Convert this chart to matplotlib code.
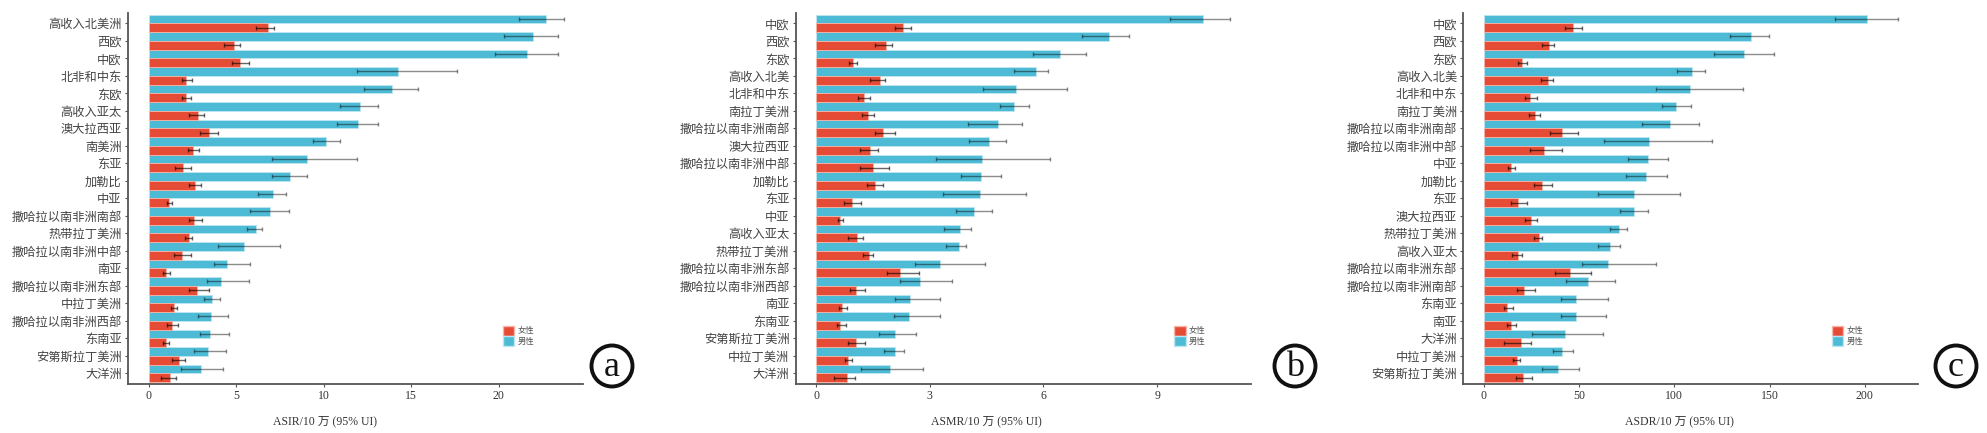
import matplotlib
matplotlib.use("Agg")
import matplotlib.pyplot as plt
from matplotlib.patches import Patch, Circle
import numpy as np

plt.rcParams['font.family'] = ['Noto Sans CJK SC', 'DejaVu Sans']

# ---------------- Panel a: ASIR ----------------
a_regions = ["高收入北美洲", "西欧", "中欧", "北非和中东", "东欧", "高收入亚太", "澳大拉西亚",
             "南美洲", "东亚", "加勒比", "中亚", "撒哈拉以南非洲南部", "热带拉丁美洲",
             "撒哈拉以南非洲中部", "南亚", "撒哈拉以南非洲东部", "中拉丁美洲",
             "撒哈拉以南非洲西部", "东南亚", "安第斯拉丁美洲", "大洋洲"]
a_male = [22.66, 21.94, 21.62, 14.23, 13.89, 12.06, 11.94, 10.13, 9.06, 8.06, 7.09,
          6.95, 6.11, 5.43, 4.47, 4.15, 3.60, 3.56, 3.52, 3.39, 2.99]
a_male_lo = [21.12, 20.30, 19.77, 11.90, 12.32, 10.95, 10.74, 9.41, 7.03, 7.03, 6.23,
             5.81, 5.63, 3.96, 3.75, 3.31, 3.14, 2.82, 2.93, 2.61, 1.83]
a_male_hi = [23.69, 23.35, 23.37, 17.60, 15.39, 13.07, 13.07, 10.93, 11.92, 9.05, 7.87,
             8.02, 6.49, 7.50, 5.77, 5.75, 4.09, 4.53, 4.61, 4.40, 4.26]
a_female = [6.80, 4.89, 5.24, 2.11, 2.13, 2.84, 3.45, 2.55, 1.94, 2.65, 1.18,
            2.61, 2.32, 1.89, 0.99, 2.78, 1.43, 1.31, 0.97, 1.71, 1.22]
a_female_lo = [6.13, 4.30, 4.78, 1.89, 1.90, 2.32, 2.95, 2.26, 1.49, 2.29, 1.03,
               2.29, 2.07, 1.43, 0.82, 2.29, 1.26, 1.07, 0.82, 1.35, 0.70]
a_female_hi = [7.18, 5.22, 5.73, 2.46, 2.40, 3.18, 3.94, 2.87, 2.42, 3.01, 1.33,
               3.05, 2.47, 2.40, 1.22, 3.43, 1.60, 1.67, 1.14, 2.06, 1.54]
a_ticks = [0, 5, 10, 15, 20]

# ---------------- Panel b: ASMR ----------------
b_regions = ["中欧", "西欧", "东欧", "高收入北美", "北非和中东", "南拉丁美洲",
             "撒哈拉以南非洲南部", "澳大拉西亚", "撒哈拉以南非洲中部", "加勒比", "东亚",
             "中亚", "高收入亚太", "热带拉丁美洲", "撒哈拉以南非洲东部",
             "撒哈拉以南非洲西部", "南亚", "东南亚", "安第斯拉丁美洲", "中拉丁美洲", "大洋洲"]
b_male = [10.20, 7.73, 6.44, 5.79, 5.28, 5.21, 4.81, 4.55, 4.39, 4.36, 4.32,
          4.16, 3.79, 3.78, 3.27, 2.75, 2.47, 2.44, 2.09, 2.07, 1.95]
b_male_lo = [9.35, 7.01, 5.73, 5.23, 4.41, 4.84, 4.00, 4.04, 3.16, 3.82, 3.36,
             3.70, 3.37, 3.44, 2.61, 2.21, 2.07, 2.05, 1.65, 1.80, 1.19]
b_male_hi = [10.93, 8.25, 7.13, 6.13, 6.63, 5.63, 5.43, 5.01, 6.17, 4.89, 5.55,
             4.65, 4.09, 3.95, 4.46, 3.58, 3.28, 3.27, 2.64, 2.31, 2.82]
b_female = [2.29, 1.84, 0.98, 1.68, 1.25, 1.37, 1.77, 1.42, 1.51, 1.56, 0.95,
            0.64, 1.09, 1.40, 2.22, 1.05, 0.69, 0.62, 1.05, 0.85, 0.82]
b_female_lo = [2.07, 1.56, 0.88, 1.43, 1.10, 1.21, 1.55, 1.15, 1.16, 1.34, 0.73,
               0.58, 0.84, 1.23, 1.87, 0.89, 0.61, 0.54, 0.85, 0.76, 0.48]
b_female_hi = [2.51, 2.00, 1.09, 1.83, 1.43, 1.53, 2.08, 1.62, 1.93, 1.76, 1.19,
               0.72, 1.24, 1.50, 2.72, 1.30, 0.81, 0.78, 1.29, 0.95, 1.03]
b_ticks = [0, 3, 6, 9]

# ---------------- Panel c: ASDR ----------------
c_regions = ["中欧", "西欧", "东欧", "高收入北美", "北非和中东", "南拉丁美洲",
             "撒哈拉以南非洲南部", "撒哈拉以南非洲中部", "中亚", "加勒比", "东亚",
             "澳大拉西亚", "热带拉丁美洲", "高收入亚太", "撒哈拉以南非洲东部",
             "撒哈拉以南非洲南部", "东南亚", "南亚", "大洋洲", "中拉丁美洲", "安第斯拉丁美洲"]
c_male = [200.9, 140.0, 136.5, 109.3, 108.0, 100.9, 97.9, 86.5, 86.2, 85.3, 78.7,
          78.7, 71.1, 66.2, 65.0, 54.5, 48.6, 48.4, 42.6, 41.2, 39.0]
c_male_lo = [184.3, 129.0, 120.8, 101.4, 90.4, 93.5, 82.9, 62.9, 75.5, 74.5, 60.1,
             71.3, 66.1, 60.1, 51.4, 43.3, 40.4, 40.4, 25.5, 36.2, 30.6]
c_male_hi = [217.3, 149.5, 152.3, 116.1, 135.8, 108.7, 113.1, 119.6, 96.7, 96.0, 103.0,
             86.3, 75.0, 71.3, 90.5, 69.0, 65.2, 64.2, 62.6, 47.0, 50.1]
c_female = [46.8, 34.3, 20.3, 33.6, 24.3, 26.9, 41.2, 31.6, 14.3, 30.7, 18.2,
            24.8, 29.0, 18.0, 45.3, 21.0, 12.2, 14.3, 19.4, 17.3, 20.6]
c_female_lo = [42.8, 30.4, 18.2, 29.9, 21.5, 23.9, 34.9, 24.1, 12.6, 26.2, 14.2,
               21.5, 26.4, 15.0, 37.2, 17.3, 10.5, 12.4, 10.8, 15.4, 16.8]
c_female_hi = [51.4, 37.1, 22.9, 36.2, 27.8, 29.7, 49.6, 40.9, 16.6, 36.0, 22.9,
               28.1, 30.7, 20.3, 56.1, 26.7, 15.2, 16.9, 25.0, 19.2, 25.3]
c_ticks = [0, 50, 100, 150, 200]

RED = "#E64B35"
BLUE = "#4DBBD5"
AXC = "#555555"

panels = [
    dict(reg=a_regions, m=a_male, mlo=a_male_lo, mhi=a_male_hi, f=a_female, flo=a_female_lo,
         fhi=a_female_hi, ticks=a_ticks, xlim=(-1.18, 24.8), xlabel="ASIR/10 万 (95% UI)",
         left=128, labx=0.433, legx=0.815, letter="a", cx=612),
    dict(reg=b_regions, m=b_male, mlo=b_male_lo, mhi=b_male_hi, f=b_female, flo=b_female_lo,
         fhi=b_female_hi, ticks=b_ticks, xlim=(-0.54, 11.47), xlabel="ASMR/10 万 (95% UI)",
         left=795.7, labx=0.418, legx=0.823, letter="b", cx=1295),
    dict(reg=c_regions, m=c_male, mlo=c_male_lo, mhi=c_male_hi, f=c_female, flo=c_female_lo,
         fhi=c_female_hi, ticks=c_ticks, xlim=(-10.7, 228), xlabel="ASDR/10 万 (95% UI)",
         left=1463.3, labx=0.476, legx=0.801, letter="c", cx=1956),
]

W, H = 1987, 433
fig = plt.figure(figsize=(W / 100, H / 100), dpi=100)

for p in panels:
    ax = fig.add_axes([p["left"] / W, (H - 384) / H, 455 / W, (384 - 13) / H])
    n = len(p["reg"])
    y = np.arange(n)
    m = np.array(p["m"]); f = np.array(p["f"])
    bh = 0.5
    ax.barh(y - 0.25, m, height=bh, color=BLUE, edgecolor="#bfe6f0", linewidth=0.6, zorder=2)
    ax.barh(y + 0.25, f, height=bh, color=RED, edgecolor="#f5b5aa", linewidth=0.6, zorder=2)
    ax.errorbar(m, y - 0.25,
                xerr=[m - np.array(p["mlo"]), np.array(p["mhi"]) - m],
                fmt="none", ecolor="black", alpha=0.45, elinewidth=1.0, capsize=1.6,
                capthick=1.0, zorder=3)
    ax.errorbar(f, y + 0.25,
                xerr=[f - np.array(p["flo"]), np.array(p["fhi"]) - f],
                fmt="none", ecolor="black", alpha=0.6, elinewidth=1.0, capsize=1.6,
                capthick=1.0, zorder=3)
    ax.set_ylim(n - 1 + 0.61, -0.59)
    ax.set_xlim(*p["xlim"])
    ax.set_yticks(y)
    ax.set_yticklabels(p["reg"], fontsize=8.8, color="#444444")
    ax.set_xticks(p["ticks"])
    ax.set_xticklabels([str(t) for t in p["ticks"]], fontsize=8.5, color="#333333",
                       family=["Liberation Serif", "DejaVu Serif"])
    ax.tick_params(axis="y", length=2.5, width=0.8, color=AXC, pad=2)
    ax.tick_params(axis="x", length=2.5, width=0.8, color=AXC, pad=2)
    for s in ["top", "right"]:
        ax.spines[s].set_visible(False)
    for s in ["left", "bottom"]:
        ax.spines[s].set_color(AXC)
        ax.spines[s].set_linewidth(1.3)
    ax.set_xlabel(p["xlabel"], fontsize=8.5, color="#333333",
                  family=["Liberation Serif", "Noto Sans CJK SC"], labelpad=4)
    ax.xaxis.set_label_coords(p["labx"], -0.085)
    handles = [Patch(facecolor=RED, edgecolor="#f5b5aa", label="女性"),
               Patch(facecolor=BLUE, edgecolor="#bfe6f0", label="男性")]
    ax.legend(handles=handles, loc="center left", bbox_to_anchor=(p["legx"], 0.13),
              frameon=False, fontsize=6, handlelength=1.35, handleheight=1.45,
              handletextpad=0.4, labelspacing=0.05, labelcolor="#555555", borderpad=0)
    # circled panel letter
    cx_in = p["cx"] / 100
    cy_in = (H - 366) / 100
    circ = Circle((cx_in, cy_in), 0.205, transform=fig.dpi_scale_trans, fill=False,
                  edgecolor="#111111", linewidth=2.8)
    fig.add_artist(circ)
    fig.text(p["cx"] / W, (H - 368) / H, p["letter"], ha="center", va="center",
             fontsize=26, family=["Liberation Serif", "DejaVu Serif"], color="#111111")

fig.savefig("out.png", dpi=100)
